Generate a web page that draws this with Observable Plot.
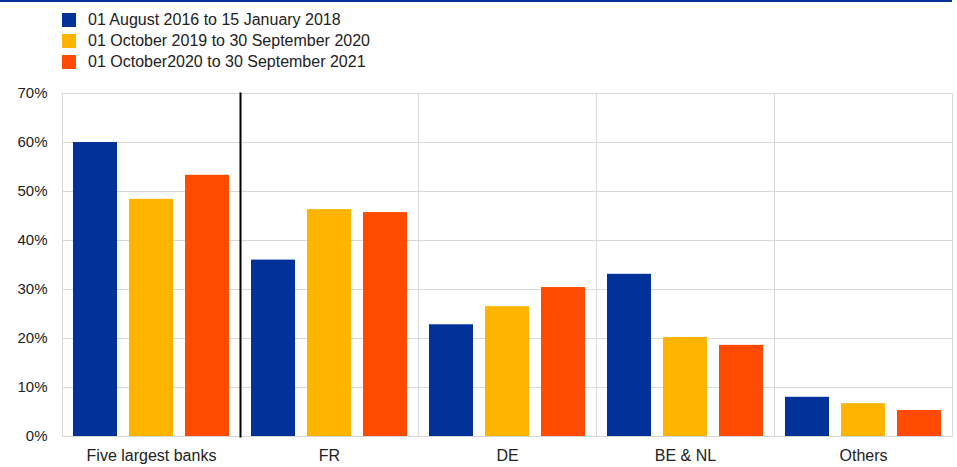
<!DOCTYPE html>
<html>
<head>
<meta charset="utf-8">
<script src="https://cdn.jsdelivr.net/npm/d3@7"></script>
<script src="https://cdn.jsdelivr.net/npm/@observablehq/plot@0.6"></script>
<style>
  body { margin: 0; background: #fff; font-family: "Liberation Sans", Arial, sans-serif; }
  #wrap { position: relative; width: 957px; height: 467px; overflow: hidden; }
  #topline { position: absolute; left: 0; top: 0; width: 952px; height: 2px; background: #003299; }
  .lg { position: absolute; left: 62px; height: 14px; font-size: 16px; color: #222; white-space: nowrap; }
  .lg span.sw { position: absolute; left: 0; top: 0; width: 14px; height: 14px; }
  .lg span.tx { position: absolute; left: 26px; top: -2px; line-height: 18px; }
  #chart { position: absolute; left: 0; top: 80px; }
  #chart g[aria-label="fx-axis tick label"] text { font-size: 16px; }
</style>
</head>
<body>
<div id="wrap">
  <div id="topline"></div>
  <div id="legend"></div>
  <div id="chart"></div>
</div>
<script>
const categories = ["Five largest banks", "FR", "DE", "BE & NL", "Others"];
const series = [
  "01 August 2016 to 15 January 2018",
  "01 October 2019 to 30 September 2020",
  "01 October2020 to 30 September 2021"
];
const colors = ["#003299", "#FFB400", "#FF4B00"];
const period1 = [60.0, 36.0, 22.8, 33.1, 8.0];
const period2 = [48.4, 46.3, 26.5, 20.2, 6.7];
const period3 = [53.3, 45.7, 30.4, 18.6, 5.3];
const yTicks = [0, 10, 20, 30, 40, 50, 60, 70];

const seriesValues = [period1, period2, period3];
const data = [];
categories.forEach((c, i) => {
  series.forEach((s, j) => data.push({category: c, series: s, value: seriesValues[j][i]}));
});

// legend
const legend = document.getElementById("legend");
const legendTops = [13, 34, 55];
series.forEach((s, j) => {
  const row = document.createElement("div");
  row.className = "lg";
  row.style.top = legendTops[j] + "px";
  row.innerHTML = `<span class="sw" style="background:${colors[j]}"></span><span class="tx"></span>`;
  row.querySelector(".tx").textContent = s;
  legend.appendChild(row);
});

const chart = Plot.plot({
  width: 957,
  height: 387,
  marginTop: 13,
  marginBottom: 31,
  marginLeft: 62,
  marginRight: 5,
  style: {fontFamily: "'Liberation Sans', Arial, sans-serif", fontSize: "15px", color: "#222", background: "transparent"},
  fx: {domain: categories, padding: 0, label: null, axis: "bottom", tickSize: 0, tickPadding: 13},
  x: {domain: series, paddingInner: 12 / 56, paddingOuter: 11 / 56, axis: null},
  y: {domain: [0, 70], ticks: yTicks, tickFormat: d => d + "%", label: null, tickSize: 0, tickPadding: 15},
  color: {domain: series, range: colors},
  marks: [
    Plot.gridY(yTicks, {stroke: "#d9d9d9", strokeOpacity: 1}),
    Plot.frame({stroke: "#d9d9d9"}),
    Plot.barY(data, {fx: "category", x: "series", y: "value", fill: "series"}),
    Plot.frame({anchor: "left", stroke: "#000", strokeWidth: 2, fx: [categories[1]]})
  ]
});
document.getElementById("chart").appendChild(chart);
</script>
</body>
</html>
